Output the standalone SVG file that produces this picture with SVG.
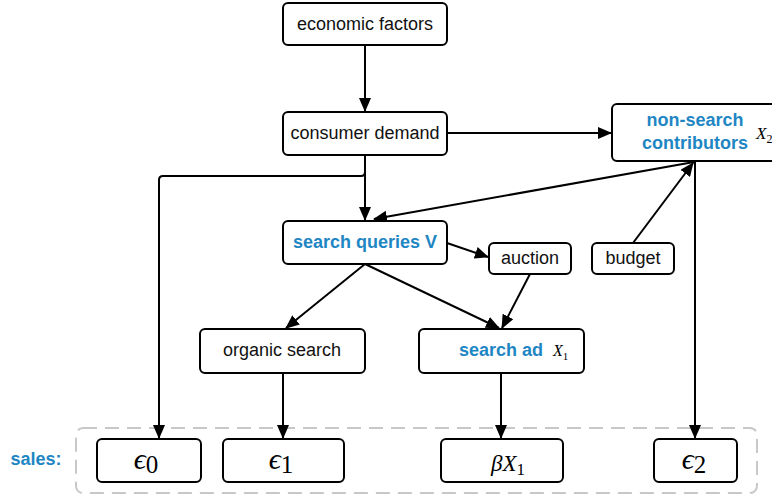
<svg xmlns="http://www.w3.org/2000/svg" width="772" height="499" viewBox="0 0 772 499">
<style>
.box{fill:#fff;stroke:#000;stroke-width:2}
.t{font-family:"Liberation Sans",Arial,sans-serif;font-size:18px;fill:#111;text-anchor:middle}
.b{font-family:"Liberation Sans",Arial,sans-serif;font-size:18px;font-weight:bold;fill:#1f86c4;text-anchor:middle}
.m{font-family:"Liberation Serif","Times New Roman","DejaVu Serif",serif;fill:#000}
.e{stroke:#000;stroke-width:2;fill:none}
</style>
<defs>
<marker id="ar" markerUnits="userSpaceOnUse" markerWidth="14" markerHeight="12" refX="13" refY="6" orient="auto">
<path d="M0,0 L14,6 L0,12 Z" fill="#000"/>
</marker>
</defs>
<rect x="76" y="428" width="681" height="65" rx="7" fill="none" stroke="#c8c8c8" stroke-width="2" stroke-dasharray="14,8"/>
<text x="36" y="465" font-family="Liberation Sans,Arial,sans-serif" font-size="18" font-weight="bold" fill="#1f86c4" text-anchor="middle">sales:</text>
<g id="connectors">
<path class="e" d="M365,45 V111" marker-end="url(#ar)"/>
<path class="e" d="M447,133 H611" marker-end="url(#ar)"/>
<path class="e" d="M365,155 V220" marker-end="url(#ar)"/>
<path class="e" d="M365,155 V172 Q365,176 361,176 H163 Q159,176 159,180 V438" marker-end="url(#ar)"/>
<path class="e" d="M694,162 L374,219" marker-end="url(#ar)"/>
<path class="e" d="M447,243 L488,257" marker-end="url(#ar)"/>
<path class="e" d="M633,243 L693,163" marker-end="url(#ar)"/>
<path class="e" d="M365,264 L286,328" marker-end="url(#ar)"/>
<path class="e" d="M365,264 L499,328" marker-end="url(#ar)"/>
<path class="e" d="M530,274 L502,328" marker-end="url(#ar)"/>
<path class="e" d="M283,373 V438" marker-end="url(#ar)"/>
<path class="e" d="M501,373 V438" marker-end="url(#ar)"/>
<path class="e" d="M695,162 V438" marker-end="url(#ar)"/>
</g>
<g id="economic">
<rect class="box" x="283" y="3" width="164" height="42" rx="5"/>
<text class="t" x="365" y="30">economic factors</text>
</g>
<g id="demand">
<rect class="box" x="283" y="112" width="164" height="43" rx="5"/>
<text class="t" x="365" y="139">consumer demand</text>
</g>
<g id="nonsearch">
<rect class="box" x="612" y="104" width="170" height="57" rx="5"/>
<text class="b" x="695" y="126">non-search</text>
<text class="b" x="695" y="149">contributors</text>
<text class="m" x="756" y="139" font-size="17" font-style="italic">X<tspan font-size="12" font-style="normal" dy="4">2</tspan></text>
</g>
<g id="queries">
<rect class="box" x="283" y="221" width="164" height="43" rx="5"/>
<text class="b" x="365" y="248">search queries V</text>
</g>
<g id="auction">
<rect class="box" x="489" y="243" width="82" height="31" rx="5"/>
<text class="t" x="530" y="264">auction</text>
</g>
<g id="budget">
<rect class="box" x="592" y="243" width="82" height="31" rx="5"/>
<text class="t" x="633" y="264">budget</text>
</g>
<g id="organic">
<rect class="box" x="200" y="329" width="165" height="44" rx="5"/>
<text class="t" x="282" y="356">organic search</text>
</g>
<g id="searchad">
<rect class="box" x="419" y="329" width="165" height="44" rx="5"/>
<text class="b" x="501" y="356">search ad</text>
<text class="m" x="553" y="356" font-size="16" font-style="italic">X<tspan font-size="11" font-style="normal" dy="4">1</tspan></text>
</g>
<g id="e0">
<rect class="box" x="97" y="439" width="104" height="43" rx="5"/>
<text class="m" x="146" y="469" font-size="30" text-anchor="middle"><tspan font-style="italic">ϵ</tspan><tspan font-size="25" dy="4">0</tspan></text>
</g>
<g id="e1">
<rect class="box" x="223" y="439" width="121" height="43" rx="5"/>
<text class="m" x="281" y="469" font-size="30" text-anchor="middle"><tspan font-style="italic">ϵ</tspan><tspan font-size="25" dy="4">1</tspan></text>
</g>
<g id="bx1">
<rect class="box" x="441" y="439" width="122" height="43" rx="5"/>
<text class="m" x="508" y="471" font-size="23" text-anchor="middle" font-style="italic">βX<tspan font-size="17" font-style="normal" dy="4">1</tspan></text>
</g>
<g id="e2">
<rect class="box" x="654" y="439" width="83" height="43" rx="5"/>
<text class="m" x="694" y="469" font-size="30" text-anchor="middle"><tspan font-style="italic">ϵ</tspan><tspan font-size="25" dy="4">2</tspan></text>
</g>
</svg>
